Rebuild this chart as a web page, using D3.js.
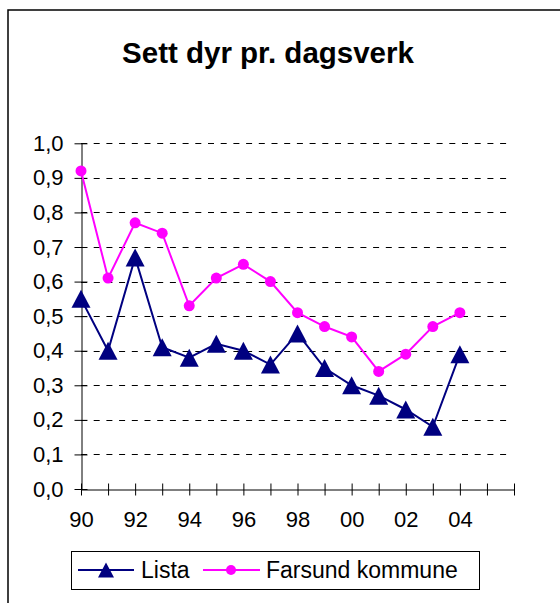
<!DOCTYPE html>
<html>
<head>
<meta charset="utf-8">
<script src="https://cdn.jsdelivr.net/npm/d3@7"></script>
<style>
  html, body { margin: 0; padding: 0; background: #fff; }
  svg { display: block; font-family: Arial, "Liberation Sans", sans-serif; }
</style>
</head>
<body>
<svg id="chart" width="560" height="603"></svg>
<script>
const title = "Sett dyr pr. dagsverk";
const categories = ["90","91","92","93","94","95","96","97","98","99","00","01","02","03","04","05","06"];
const tickLabels = ["90","","92","","94","","96","","98","","00","","02","","04","",""];
const listaValues = [0.55,0.40,0.67,0.41,0.38,0.42,0.40,0.36,0.45,0.35,0.30,0.27,0.23,0.18,0.39];
const farsundValues = [0.92,0.61,0.77,0.74,0.53,0.61,0.65,0.60,0.51,0.47,0.44,0.34,0.39,0.47,0.51];
const yTicks = [0,0.1,0.2,0.3,0.4,0.5,0.6,0.7,0.8,0.9,1.0];
const seriesNames = ["Lista", "Farsund kommune"];
const colors = ["#000080", "#FF00FF"];

const svg = d3.select("#chart");

// outer chart frame (extends beyond the picture at right and bottom)
svg.append("rect").attr("x", 8).attr("y", 10).attr("width", 600).attr("height", 640)
  .attr("fill", "#fff").attr("stroke", "#000").attr("stroke-width", 1.5);

// title
svg.append("text").attr("x", 268).attr("y", 63).attr("text-anchor", "middle")
  .attr("font-size", 29.5).attr("font-weight", "bold").text(title);

const pLeft = 81, pRight = 514, pTop = 143.3, pBottom = 489;
const x = d3.scalePoint().domain(categories).range([pLeft, pRight]);
const y = d3.scaleLinear().domain([0, 1]).range([pBottom, pTop]);

// gridlines
svg.append("g").selectAll("line").data(yTicks.filter(d => d > 0)).join("line")
  .attr("x1", pLeft).attr("x2", 510)
  .attr("y1", d => Math.round(y(d)) + 0.5).attr("y2", d => Math.round(y(d)) + 0.5)
  .attr("stroke", "#000").attr("stroke-width", 1).attr("stroke-dasharray", "6,6.7");

// y axis
const yAxis = d3.axisLeft(y).tickValues(yTicks)
  .tickFormat(d => d.toFixed(1).replace(".", ","))
  .tickSizeInner(7).tickSizeOuter(0).tickPadding(11);
const gy = svg.append("g").attr("transform", `translate(${pLeft + 0.5},0)`).call(yAxis);
gy.select(".domain").attr("stroke", "#000");
gy.selectAll(".tick line").attr("x1", 6).attr("stroke", "#000");
gy.selectAll(".tick text").attr("font-size", 22).attr("fill", "#000")
  .attr("font-family", "Arial, 'Liberation Sans', sans-serif");

// x axis
const xAxis = d3.axisBottom(x).tickFormat((d, i) => tickLabels[i])
  .tickSizeInner(6).tickSizeOuter(0).tickPadding(16);
const gx = svg.append("g").attr("transform", `translate(0,${pBottom + 0.5})`).call(xAxis);
gx.select(".domain").attr("stroke", "#000");
gx.selectAll(".tick line").attr("y1", -6).attr("stroke", "#000");
gx.selectAll(".tick text").attr("font-size", 22).attr("fill", "#000")
  .attr("font-family", "Arial, 'Liberation Sans', sans-serif");

const line = d3.line().x((d, i) => x(categories[i])).y(d => y(d));

// Lista
svg.append("path").datum(listaValues).attr("d", line)
  .attr("fill", "none").attr("stroke", colors[0]).attr("stroke-width", 2);
const tri = (w, h) => `M0,${-h/2}L${w/2},${h/2}L${-w/2},${h/2}Z`;
svg.append("g").selectAll("path").data(listaValues).join("path")
  .attr("transform", (d, i) => `translate(${x(categories[i])},${y(d)})`)
  .attr("d", tri(19, 18)).attr("fill", colors[0]);

// Farsund
svg.append("path").datum(farsundValues).attr("d", line)
  .attr("fill", "none").attr("stroke", colors[1]).attr("stroke-width", 2);
svg.append("g").selectAll("circle").data(farsundValues).join("circle")
  .attr("cx", (d, i) => x(categories[i])).attr("cy", d => y(d))
  .attr("r", 5.5).attr("fill", colors[1]);

// legend
const lg = svg.append("g");
lg.append("rect").attr("x", 71.5).attr("y", 551.5).attr("width", 408).attr("height", 38)
  .attr("fill", "#fff").attr("stroke", "#000").attr("stroke-width", 1);
const ly = 570;
lg.append("line").attr("x1", 78).attr("x2", 134).attr("y1", ly).attr("y2", ly)
  .attr("stroke", colors[0]).attr("stroke-width", 2);
lg.append("path").attr("transform", `translate(106,${ly})`).attr("d", tri(16, 15)).attr("fill", colors[0]);
lg.append("text").attr("x", 141).attr("y", 577.5).attr("font-size", 23).text(seriesNames[0]);
lg.append("line").attr("x1", 203).attr("x2", 260).attr("y1", ly).attr("y2", ly)
  .attr("stroke", colors[1]).attr("stroke-width", 2);
lg.append("circle").attr("cx", 231).attr("cy", ly).attr("r", 5).attr("fill", colors[1]);
lg.append("text").attr("x", 266).attr("y", 577.5).attr("font-size", 23).text(seriesNames[1]);
</script>
</body>
</html>
